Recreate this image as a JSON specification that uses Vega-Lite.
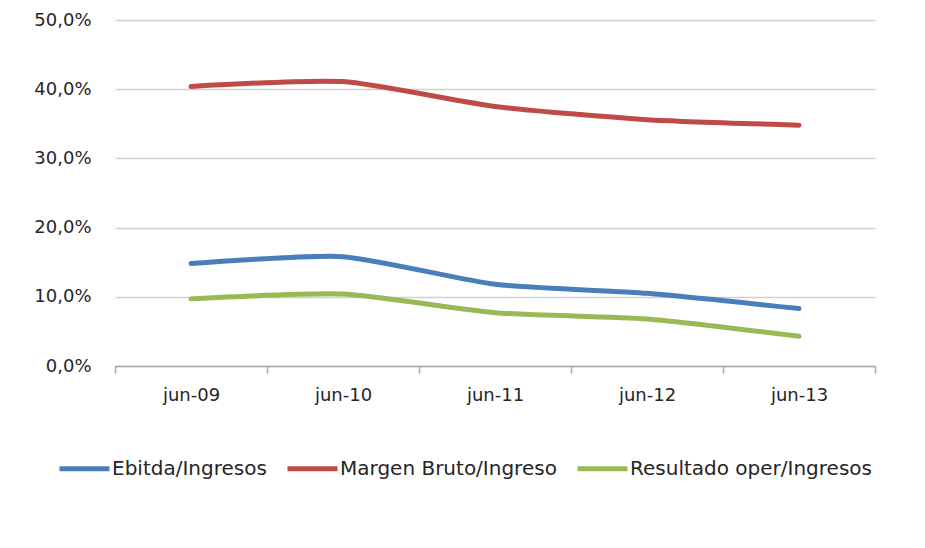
{
  "$schema": "https://vega.github.io/schema/vega-lite/v6.json",
  "autosize": "none",
  "width": 760,
  "height": 346,
  "padding": {"left": 115, "top": 20, "right": 50, "bottom": 182},
  "background": "white",
  "view": {"stroke": null},
  "data": {
    "values": [
      {"periodo": "jun-09", "serie": "Ebitda/Ingresos", "valor": 0.148},
      {"periodo": "jun-10", "serie": "Ebitda/Ingresos", "valor": 0.158},
      {"periodo": "jun-11", "serie": "Ebitda/Ingresos", "valor": 0.118},
      {"periodo": "jun-12", "serie": "Ebitda/Ingresos", "valor": 0.105},
      {"periodo": "jun-13", "serie": "Ebitda/Ingresos", "valor": 0.083},
      {"periodo": "jun-09", "serie": "Margen Bruto/Ingreso", "valor": 0.404},
      {"periodo": "jun-10", "serie": "Margen Bruto/Ingreso", "valor": 0.411},
      {"periodo": "jun-11", "serie": "Margen Bruto/Ingreso", "valor": 0.375},
      {"periodo": "jun-12", "serie": "Margen Bruto/Ingreso", "valor": 0.356},
      {"periodo": "jun-13", "serie": "Margen Bruto/Ingreso", "valor": 0.348},
      {"periodo": "jun-09", "serie": "Resultado oper/Ingresos", "valor": 0.097},
      {"periodo": "jun-10", "serie": "Resultado oper/Ingresos", "valor": 0.104},
      {"periodo": "jun-11", "serie": "Resultado oper/Ingresos", "valor": 0.077},
      {"periodo": "jun-12", "serie": "Resultado oper/Ingresos", "valor": 0.068},
      {"periodo": "jun-13", "serie": "Resultado oper/Ingresos", "valor": 0.043}
    ]
  },
  "mark": {"type": "line", "interpolate": "cardinal", "tension": 0.4, "strokeWidth": 5, "strokeCap": "round", "strokeJoin": "round"},
  "encoding": {
    "x": {
      "field": "periodo",
      "type": "ordinal",
      "scale": {"paddingInner": 0, "paddingOuter": 0},
      "axis": {
        "title": null,
        "labelAngle": 0,
        "grid": false,
        "domainColor": "#a6a6a6",
        "domainWidth": 1.5,
        "tickColor": "#a6a6a6",
        "tickWidth": 1.5,
        "tickSize": 7,
        "tickBand": "extent",
        "labelPadding": 13,
        "labelFont": "DejaVu Sans",
        "labelFontSize": 18,
        "labelColor": "#262626"
      }
    },
    "y": {
      "field": "valor",
      "type": "quantitative",
      "scale": {"domain": [0, 0.5], "nice": false},
      "axis": {
        "title": null,
        "values": [0, 0.1, 0.2, 0.3, 0.4, 0.5],
        "labelExpr": "replace(format(datum.value, '.1%'), '.', ',')",
        "domain": false,
        "ticks": false,
        "gridColor": "#d0d0d0",
        "gridWidth": 1.5,
        "labelPadding": 24,
        "labelFont": "DejaVu Sans",
        "labelFontSize": 18,
        "labelColor": "#262626"
      }
    },
    "color": {
      "field": "serie",
      "type": "nominal",
      "scale": {
        "domain": ["Ebitda/Ingresos", "Margen Bruto/Ingreso", "Resultado oper/Ingresos"],
        "range": ["#4a7ebb", "#be4b48", "#98b954"]
      },
      "legend": {
        "title": null,
        "orient": "none",
        "direction": "horizontal",
        "legendX": -58,
        "legendY": 421,
        "symbolType": "stroke",
        "symbolSize": 2500,
        "symbolStrokeWidth": 5,
        "labelOffset": 0,
        "labelLimit": 0,
        "columnPadding": 10,
        "labelFont": "DejaVu Sans",
        "labelFontSize": 20,
        "labelColor": "#262626"
      }
    }
  }
}
